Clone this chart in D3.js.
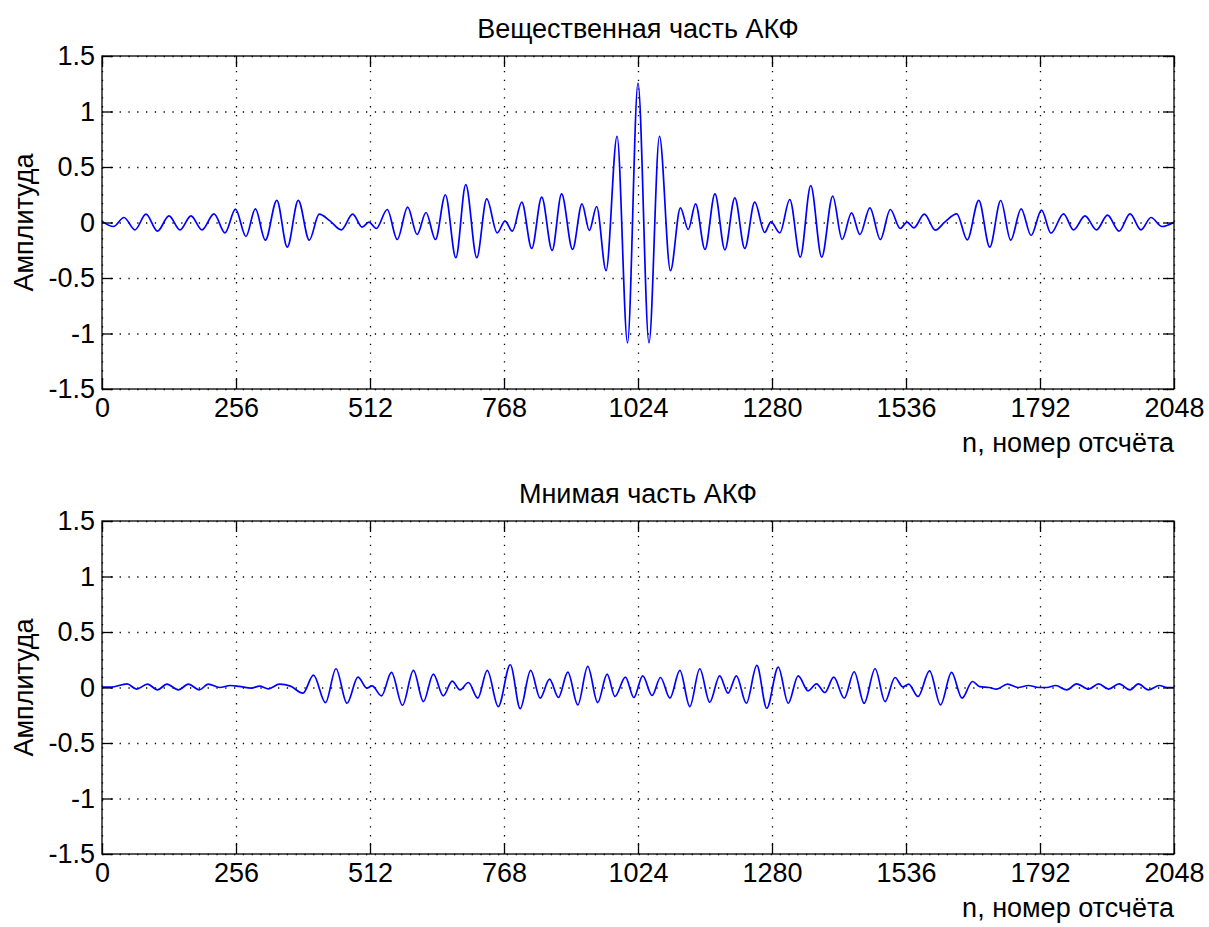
<!DOCTYPE html>
<html>
<head>
<meta charset="utf-8">
<script src="https://cdn.jsdelivr.net/npm/d3@7"></script>
<style>
  body { margin: 0; background: #fff; }
  text { font-family: "Liberation Sans", Arial, sans-serif; fill: #000; }
</style>
</head>
<body>
<svg id="chart" width="1209" height="927"></svg>
<script>
// samples (n) and values, local extrema of each trace
const reN = [0, 22, 42, 63, 84, 106, 128, 149, 170, 191, 214, 235, 255, 275, 293, 312, 334, 354, 375, 396,
  415, 436, 457, 479, 497, 510, 524, 545, 564, 584, 602, 619, 637, 656, 676, 695, 716, 735, 755, 770,
  784, 802, 821, 840, 860, 878, 899, 917, 931, 945, 963, 984, 1004, 1024, 1045, 1065, 1086, 1105, 1120, 1134,
  1152, 1171, 1190, 1209, 1228, 1247, 1266, 1278, 1295, 1314, 1334, 1354, 1375, 1396, 1414, 1432, 1448, 1467, 1487, 1506,
  1525, 1538, 1551, 1571, 1592, 1610, 1633, 1653, 1675, 1696, 1717, 1736, 1756, 1775, 1795, 1813, 1837, 1856, 1878, 1900,
  1921, 1943, 1964, 1985, 2004, 2025, 2048];
const reV = [0.01, -0.036, 0.045, -0.066, 0.075, -0.078, 0.06, -0.066, 0.06, -0.066, 0.078, -0.093, 0.12, -0.126, 0.123, -0.159, 0.2, -0.222, 0.2, -0.159,
  0.075, 0.012, -0.066, 0.075, -0.042, 0.003, -0.054, 0.117, -0.153, 0.138, -0.108, 0.09, -0.153, 0.25, -0.317, 0.341, -0.317, 0.213, -0.093, 0.012,
  -0.078, 0.183, -0.234, 0.228, -0.251, 0.257, -0.243, 0.168, -0.072, 0.144, -0.434, 0.777, -1.084, 1.255, -1.084, 0.777, -0.434, 0.132, -0.063, 0.168,
  -0.243, 0.257, -0.246, 0.222, -0.234, 0.183, -0.09, 0.006, -0.093, 0.207, -0.311, 0.332, -0.311, 0.237, -0.153, 0.087, -0.108, 0.132, -0.153, 0.117,
  -0.054, 0.003, -0.048, 0.075, -0.069, 0.003, 0.078, -0.156, 0.2, -0.222, 0.198, -0.159, 0.123, -0.117, 0.111, -0.096, 0.078, -0.066, 0.06, -0.066,
  0.066, -0.078, 0.078, -0.066, 0.045, -0.036, 0.003];

const imN = [0, 17, 48, 66, 87, 106, 124, 146, 165, 186, 203, 225, 245, 262, 285, 301, 318, 339, 360, 384,
  404, 427, 447, 468, 489, 506, 516, 534, 553, 574, 595, 614, 633, 652, 669, 684, 700, 718, 736, 757,
  780, 799, 819, 837, 855, 872, 890, 909, 928, 947, 965, 980, 1000, 1016, 1033, 1051, 1067, 1085, 1104, 1123,
  1142, 1161, 1180, 1196, 1212, 1231, 1251, 1270, 1292, 1311, 1330, 1349, 1365, 1381, 1398, 1418, 1437, 1456, 1477, 1496,
  1515, 1530, 1541, 1559, 1581, 1602, 1623, 1643, 1663, 1677, 1695, 1709, 1730, 1750, 1770, 1790, 1805, 1822, 1843, 1862,
  1885, 1904, 1923, 1943, 1964, 1980, 1999, 2020, 2035, 2048];
const imV = [0.003, 0.003, 0.033, -0.015, 0.03, -0.021, 0.03, -0.021, 0.03, -0.021, 0.03, 0.0, 0.018, 0.01, -0.006, 0.012, -0.012, 0.03, 0.012, -0.051,
  0.111, -0.136, 0.169, -0.142, 0.093, -0.006, 0.015, -0.075, 0.136, -0.16, 0.154, -0.127, 0.12, -0.075, 0.057, -0.021, 0.045, -0.096, 0.154, -0.172,
  0.205, -0.19, 0.154, -0.096, 0.075, -0.09, 0.139, -0.157, 0.19, -0.136, 0.12, -0.081, 0.093, -0.09, 0.105, -0.072, 0.09, -0.096, 0.154, -0.172,
  0.169, -0.133, 0.105, -0.051, 0.105, -0.142, 0.199, -0.187, 0.184, -0.142, 0.105, -0.03, 0.033, -0.045, 0.093, -0.096, 0.142, -0.142, 0.169, -0.127,
  0.09, 0.005, 0.03, -0.081, 0.15, -0.157, 0.136, -0.096, 0.054, 0.008, 0.0, -0.015, 0.03, 0.0, 0.018, 0.0, 0.0, 0.018, -0.021, 0.033,
  -0.015, 0.033, -0.015, 0.033, -0.021, 0.033, -0.021, 0.018, 0.0, 0.0];

const xTicks = [0, 256, 512, 768, 1024, 1280, 1536, 1792, 2048];
const yTicks = [-1.5, -1, -0.5, 0, 0.5, 1, 1.5];
const titles = ["Вещественная часть АКФ", "Мнимая часть АКФ"];
const yLabel = "Амплитуда";
const xLabel = "n, номер отсчёта";

const svg = d3.select("#chart");
const left = 102, right = 1174;
const panelH = 333;
const tops = [56, 521];
const fs = 27;
const tickLen = 11;

svg.append("rect").attr("width", 1209).attr("height", 927).attr("fill", "#fff");

const x = d3.scaleLinear().domain([0, 2048]).range([left, right]);

function drawPanel(top, title, nArr, vArr) {
    const bottom = top + panelH;
    const y = d3.scaleLinear().domain([-1.5, 1.5]).range([bottom, top]);
    const g = svg.append("g");

    // dotted grid
    g.append("g")
        .attr("transform", `translate(0,${bottom})`)
        .call(d3.axisBottom(x).tickValues(xTicks).tickSize(-panelH).tickFormat(""))
        .call(a => a.select(".domain").remove())
        .selectAll("line")
        .attr("stroke", "#000").attr("stroke-width", 1.3).attr("stroke-dasharray", "1.3,7.5");
    g.append("g")
        .attr("transform", `translate(${left},0)`)
        .call(d3.axisLeft(y).tickValues(yTicks).tickSize(-(right - left)).tickFormat(""))
        .call(a => a.select(".domain").remove())
        .selectAll("line")
        .attr("stroke", "#000").attr("stroke-width", 1.3).attr("stroke-dasharray", "1.3,7.5");

    // signal
    const pts = nArr.map((n, i) => [n, vArr[i]]);
    g.append("path")
        .datum(pts)
        .attr("fill", "none")
        .attr("stroke", "#0000ff")
        .attr("stroke-width", 1.7)
        .attr("d", d3.line().x(d => x(d[0])).y(d => y(d[1])).curve(d3.curveMonotoneX));

    // axes with inward ticks on all four sides
    const styleAxis = a => {
        a.select(".domain").remove();
        a.selectAll("line").attr("stroke", "#000").attr("stroke-width", 1.3);
        a.selectAll("text").style("font-size", fs + "px").attr("fill", "#000");
    };
    g.append("g")
        .attr("transform", `translate(0,${bottom})`)
        .call(d3.axisBottom(x).tickValues(xTicks).tickSizeInner(-tickLen).tickSizeOuter(0).tickPadding(9).tickFormat(d3.format("d")))
        .call(styleAxis);
    g.append("g")
        .attr("transform", `translate(0,${top})`)
        .call(d3.axisTop(x).tickValues(xTicks).tickSizeInner(-tickLen).tickSizeOuter(0).tickFormat(""))
        .call(styleAxis);
    g.append("g")
        .attr("transform", `translate(${left},0)`)
        .call(d3.axisLeft(y).tickValues(yTicks).tickSizeInner(-tickLen).tickSizeOuter(0).tickPadding(7).tickFormat(d => String(d)))
        .call(styleAxis);
    g.append("g")
        .attr("transform", `translate(${right},0)`)
        .call(d3.axisRight(y).tickValues(yTicks).tickSizeInner(-tickLen).tickSizeOuter(0).tickFormat(""))
        .call(styleAxis);

    g.append("rect")
        .attr("x", left).attr("y", top)
        .attr("width", right - left).attr("height", panelH)
        .attr("fill", "none").attr("stroke", "#000").attr("stroke-width", 1.3);

    g.append("text")
        .attr("x", (left + right) / 2)
        .attr("y", top - 18)
        .attr("text-anchor", "middle")
        .style("font-size", fs + "px")
        .text(title);

    g.append("text")
        .attr("transform", `translate(33,${(top + bottom) / 2}) rotate(-90)`)
        .attr("text-anchor", "middle")
        .style("font-size", fs + "px")
        .text(yLabel);

    g.append("text")
        .attr("x", right)
        .attr("y", bottom + 63)
        .attr("text-anchor", "end")
        .style("font-size", fs + "px")
        .text(xLabel);
}

drawPanel(tops[0], titles[0], reN, reV);
drawPanel(tops[1], titles[1], imN, imV);
</script>
</body>
</html>
